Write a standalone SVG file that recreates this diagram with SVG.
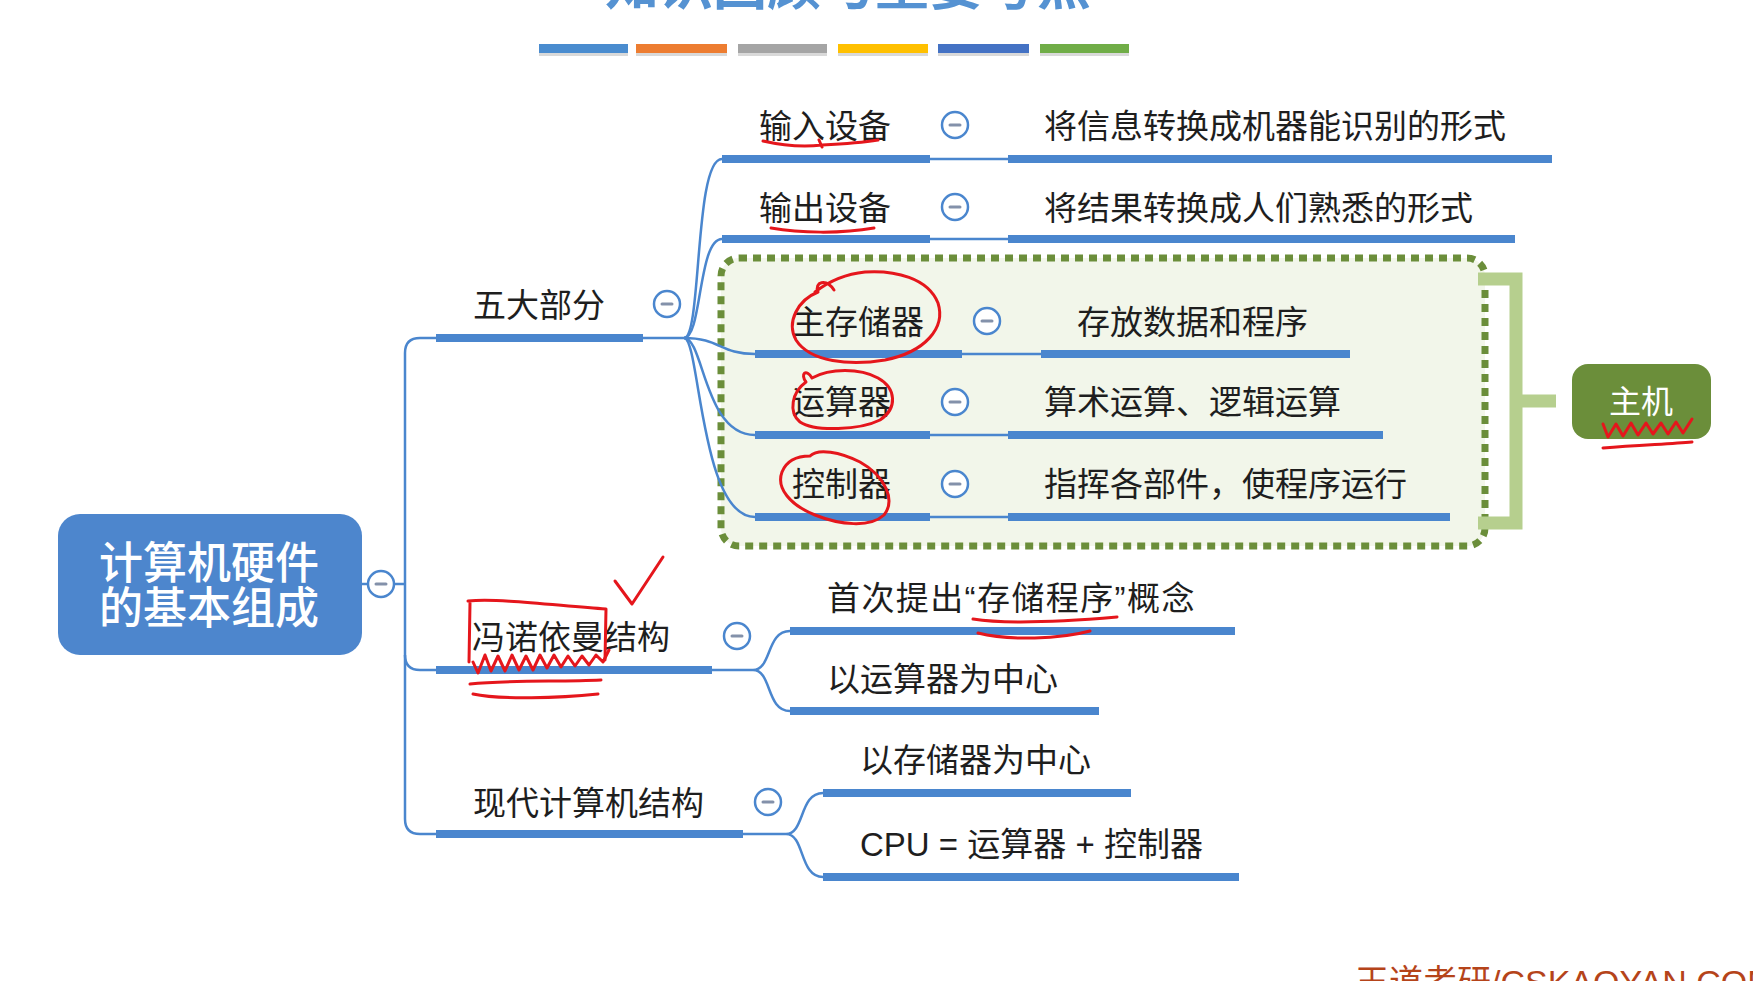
<svg xmlns="http://www.w3.org/2000/svg" width="1753" height="981" viewBox="0 0 1753 981">
<style>
.t{font-family:"Liberation Sans","Noto Sans CJK SC",sans-serif;font-size:33px;fill:#1e1e1e}
.bar{fill:#4A86CE}
.thin{stroke:#4A86CE;stroke-width:2.5;fill:none}
.btn circle{fill:#fff;stroke:#4A86CE;stroke-width:2.5}
.btn line{stroke:#8391AA;stroke-width:3;stroke-linecap:round}
.red{stroke:#E5161C;stroke-width:3;fill:none;stroke-linecap:round;stroke-linejoin:round}
</style>
<defs>
<g id="btn" class="btn"><circle cx="0" cy="0" r="13"/><line x1="-5" y1="0" x2="5" y2="0"/></g>
</defs>
<rect width="1753" height="981" fill="#fff"/>

<g id="title">
<text x="848" y="5" text-anchor="middle" style="font-family:'Liberation Sans','Noto Sans CJK SC',sans-serif;font-size:54px;font-weight:bold;fill:#5592D2">知识回顾与重要考点</text>
<rect x="539" y="47" width="89" height="9" fill="#D9D9D9"/>
<rect x="539" y="44" width="89" height="9" fill="#4A8CCF"/>
<rect x="636" y="47" width="91" height="9" fill="#D9D9D9"/>
<rect x="636" y="44" width="91" height="9" fill="#ED7D31"/>
<rect x="738" y="47" width="89" height="9" fill="#D9D9D9"/>
<rect x="738" y="44" width="89" height="9" fill="#A5A5A5"/>
<rect x="838" y="47" width="90" height="9" fill="#D9D9D9"/>
<rect x="838" y="44" width="90" height="9" fill="#FFC000"/>
<rect x="938" y="47" width="91" height="9" fill="#D9D9D9"/>
<rect x="938" y="44" width="91" height="9" fill="#4472C4"/>
<rect x="1040" y="47" width="89" height="9" fill="#D9D9D9"/>
<rect x="1040" y="44" width="89" height="9" fill="#70AD47"/>
</g>

<g id="host-box">
<rect x="721" y="258" width="764" height="288" rx="18" fill="#F2F6EA" stroke="#6B8E3A" stroke-width="7" stroke-dasharray="8 6"/>
<path d="M1478 279 H1516 V523 H1478 M1516 401 H1556" fill="none" stroke="#B6CF8E" stroke-width="13"/>
</g>

<g id="connectors" class="thin">
<path d="M362 584 H368 M394 584 H405"/>
<path d="M436 338 H420 Q405 338 405 353 V819 Q405 834 420 834 H436"/>
<path d="M405 655 Q405 670 420 670 H436"/>
<path d="M643 338 H684"/>
<path d="M684 338 C702 338 694 159 722 159"/>
<path d="M684 338 C702 338 698 239 722 239"/>
<path d="M684 338 C720 338 720 354 755 354"/>
<path d="M684 338 C704 338 704 435 755 435"/>
<path d="M684 338 C700 338 700 517 755 517"/>
<path d="M930 159 H1008 M930 239 H1008 M962 354 H1041 M930 435 H1008 M930 517 H1008"/>
<path d="M712 670 H753 C772 670 766 631 790 631 M753 670 C772 670 766 711 790 711"/>
<path d="M743 834 H786 C805 834 799 793 823 793 M786 834 C805 834 799 877 823 877"/>
</g>

<g id="root">
<rect x="58" y="514" width="304" height="141" rx="22" fill="#4D86CD"/>
<text x="209" y="579" text-anchor="middle" style="font-family:'Liberation Sans','Noto Sans CJK SC',sans-serif;font-size:44px;font-weight:500;fill:#fff">计算机硬件</text>
<text x="209" y="624" text-anchor="middle" style="font-family:'Liberation Sans','Noto Sans CJK SC',sans-serif;font-size:44px;font-weight:500;fill:#fff">的基本组成</text>
<use href="#btn" x="381" y="584"/>
</g>

<g id="n-five">
<rect class="bar" x="436" y="334" width="207" height="8"/>
<text class="t" x="473" y="317">五大部分</text>
<use href="#btn" x="667" y="304"/>
</g>

<g id="n-input">
<rect class="bar" x="722" y="155" width="208" height="8"/>
<text class="t" x="759" y="138">输入设备</text>
<use href="#btn" x="955" y="125"/>
</g>
<g id="d-input">
<rect class="bar" x="1008" y="155" width="544" height="8"/>
<text class="t" x="1044" y="138">将信息转换成机器能识别的形式</text>
</g>

<g id="n-output">
<rect class="bar" x="722" y="235" width="208" height="8"/>
<text class="t" x="759" y="220">输出设备</text>
<use href="#btn" x="955" y="207"/>
</g>
<g id="d-output">
<rect class="bar" x="1008" y="235" width="507" height="8"/>
<text class="t" x="1044" y="220">将结果转换成人们熟悉的形式</text>
</g>

<g id="n-mem">
<rect class="bar" x="755" y="350" width="207" height="8"/>
<text class="t" x="792" y="334">主存储器</text>
<use href="#btn" x="987" y="321"/>
</g>
<g id="d-mem">
<rect class="bar" x="1041" y="350" width="309" height="8"/>
<text class="t" x="1077" y="334">存放数据和程序</text>
</g>

<g id="n-alu">
<rect class="bar" x="755" y="431" width="175" height="8"/>
<text class="t" x="792" y="414">运算器</text>
<use href="#btn" x="955" y="402"/>
</g>
<g id="d-alu">
<rect class="bar" x="1008" y="431" width="375" height="8"/>
<text class="t" x="1044" y="414">算术运算、逻辑运算</text>
</g>

<g id="n-cu">
<rect class="bar" x="755" y="513" width="175" height="8"/>
<text class="t" x="792" y="496">控制器</text>
<use href="#btn" x="955" y="484"/>
</g>
<g id="d-cu">
<rect class="bar" x="1008" y="513" width="442" height="8"/>
<text class="t" x="1044" y="496">指挥各部件，使程序运行</text>
</g>

<g id="n-host">
<rect x="1572" y="364" width="139" height="75" rx="16" fill="#6B8E3A"/>
<text x="1641" y="413" text-anchor="middle" style="font-family:'Liberation Sans','Noto Sans CJK SC',sans-serif;font-size:32px;fill:#fff">主机</text>
</g>

<g id="n-vn">
<rect class="bar" x="436" y="666" width="276" height="8"/>
<text class="t" x="472" y="649">冯诺依曼结构</text>
<use href="#btn" x="737" y="636"/>
</g>
<g id="d-vn1">
<rect class="bar" x="790" y="627" width="445" height="8"/>
<text class="t" x="827" y="610" letter-spacing="1.4">首次提出“存储程序”概念</text>
</g>
<g id="d-vn2">
<rect class="bar" x="790" y="707" width="309" height="8"/>
<text class="t" x="827" y="691">以运算器为中心</text>
</g>

<g id="n-modern">
<rect class="bar" x="436" y="830" width="307" height="8"/>
<text class="t" x="473" y="815">现代计算机结构</text>
<use href="#btn" x="768" y="802"/>
</g>
<g id="d-mod1">
<rect class="bar" x="823" y="789" width="308" height="8"/>
<text class="t" x="860" y="772">以存储器为中心</text>
</g>
<g id="d-mod2">
<rect class="bar" x="823" y="873" width="416" height="8"/>
<text class="t" x="860" y="856">CPU = 运算器 + 控制器</text>
</g>

<g id="watermark">
<text x="1355" y="994" style="font-family:'Liberation Sans','Noto Sans CJK SC',sans-serif;font-size:34px;fill:#B5441A">王道考研/CSKAOYAN.COM</text>
</g>

<g id="annotations" class="red">
<path d="M763 141 C785 146 805 147 822 145 C842 144 860 143 878 140 M819 140 L822 147"/>
<path d="M771 228 C800 233 840 234 874 228"/>
<path d="M834 290 C826 278 814 282 818 292 C798 300 786 322 796 340 C810 362 850 366 885 360 C925 352 946 328 938 303 C928 278 895 270 865 272 C845 274 828 282 815 292"/>
<path d="M812 378 C806 368 800 374 806 382 C792 392 788 412 800 422 C815 432 860 430 880 420 C898 408 896 388 878 378 C860 368 830 368 812 378"/>
<path d="M810 456 C818 448 840 452 860 462 C885 476 896 500 884 515 C870 528 840 525 815 515 C790 505 776 488 782 472 C786 462 795 456 810 456"/>
<path d="M973 619 C1010 625 1070 621 1117 617"/>
<path d="M978 633 C1010 641 1060 639 1090 631"/>
<path d="M468 601 C500 598 560 606 606 609 M470 603 L469 662 M606 609 L605 660"/>
<path d="M473 662 L478 673 L485 655 L491 671 L498 656 L505 671 L512 655 L519 670 L526 656 L533 670 L540 655 L547 668 L554 655 L561 667 L568 656 L575 666 L582 656 L589 665 L596 655 L603 662 L609 650"/>
<path d="M470 684 C510 680 560 682 601 680"/>
<path d="M473 694 C500 700 560 698 598 694"/>
<path d="M615 581 L632 604 L663 557"/>
<path d="M1603 424 L1608 437 L1616 424 L1623 436 L1631 423 L1638 435 L1646 423 L1653 434 L1661 423 L1668 434 L1676 422 L1683 433 L1692 419"/>
<path d="M1603 448 C1640 445 1670 444 1692 442"/>
</g>
</svg>
